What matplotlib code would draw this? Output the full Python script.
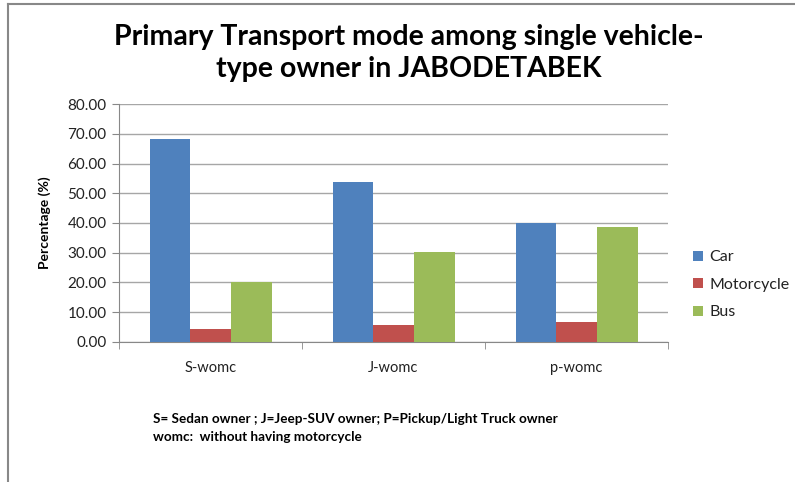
import numpy as np
import matplotlib.pyplot as plt
from matplotlib.lines import Line2D

plt.rcParams['font.family'] = ['Lato', 'DejaVu Sans']

categories = ['S-womc', 'J-womc', 'p-womc']
car = [68.2, 53.8, 40.0]
motorcycle = [4.4, 5.6, 6.8]
bus = [20.1, 30.3, 38.8]
series = [('Car', car, '#4F81BD'), ('Motorcycle', motorcycle, '#C0504D'), ('Bus', bus, '#9BBB59')]

fig = plt.figure(figsize=(7.95, 4.82), dpi=100)
ax = fig.add_axes([0.1497, 0.2905, 0.6906, 0.4937])

x = np.arange(len(categories))
w = 1 / 4.5
for i, (name, vals, col) in enumerate(series):
    ax.bar(x + (i - 1) * w, vals, w, color=col, label=name, zorder=3)

ax.set_xlim(-0.5, len(categories) - 0.5)
ax.set_ylim(0, 80)
ax.set_yticks(np.arange(0, 81, 10))
ax.set_yticklabels([f'{v:.2f}' for v in np.arange(0, 81, 10)])
ax.set_xticks(x)
ax.set_xticklabels(categories)
ax.set_xticks(np.arange(-0.5, len(categories), 1), minor=True)
ax.tick_params(axis='x', which='major', length=0, pad=14, labelsize=10.5, colors='#222222')
ax.tick_params(axis='x', which='minor', length=5, color='#888888', direction='out')
ax.tick_params(axis='y', length=5, color='#888888', labelsize=11, labelcolor='#222222', pad=4)
ax.yaxis.grid(True, color='#a6a6a6', linewidth=1, zorder=0)
for s in ['top', 'right']:
    ax.spines[s].set_visible(False)
for s in ['left', 'bottom']:
    ax.spines[s].set_color('#888888')
ax.set_ylabel('Percentage (%)', fontsize=10, fontweight='bold', labelpad=12)

ax.legend(loc='center left', bbox_to_anchor=(1.02, 0.24), frameon=False, fontsize=11.5,
          handlelength=0.6, handleheight=0.6, handletextpad=0.4, labelspacing=0.85,
          labelcolor='#222222')

fig.text(0.5145, 0.89, 'Primary Transport mode among single vehicle-\ntype owner in JABODETABEK',
         ha='center', va='center', fontsize=20.5, fontweight='bold', linespacing=1.3)

fig.text(0.192, 0.112, 'S= Sedan owner ; J=Jeep-SUV owner; P=Pickup/Light Truck owner\nwomc:  without having motorcycle',
         ha='left', va='center', fontsize=9.7, fontweight='bold', linespacing=1.65)

# chart frame (left and top edges)
fig.add_artist(Line2D([0.0106, 0.0106], [0, 0.991], color='#888888', linewidth=1.5, transform=fig.transFigure))
fig.add_artist(Line2D([0.0106, 1], [0.991, 0.991], color='#888888', linewidth=1.5, transform=fig.transFigure))

fig.savefig('out.png', dpi=100)
